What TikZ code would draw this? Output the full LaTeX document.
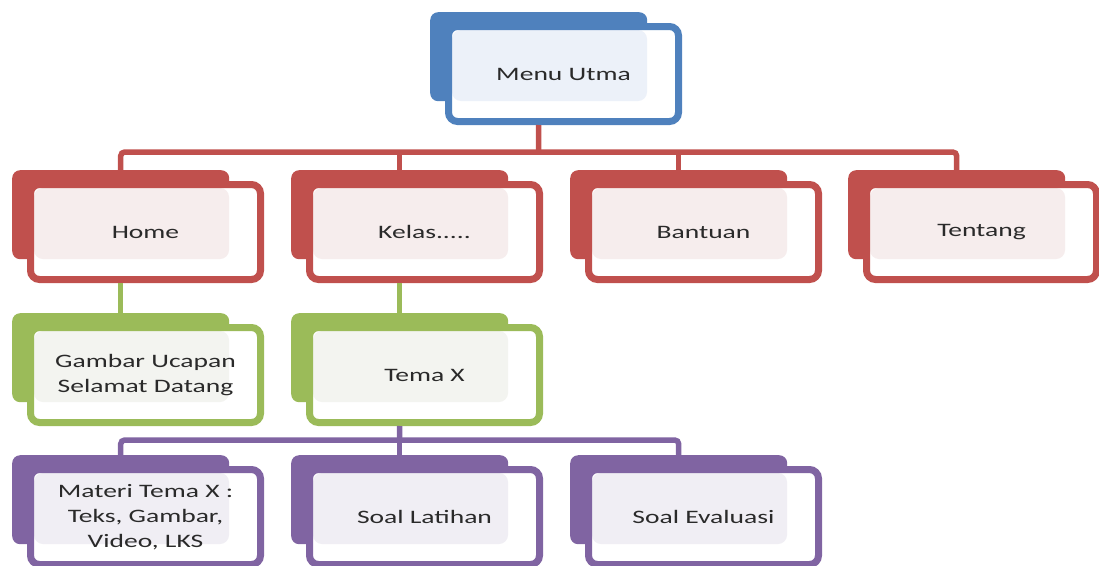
\documentclass[tikz,border=0pt]{standalone}
\usepackage{fontspec}
\setmainfont{Carlito}[FakeStretch=1.45]
\definecolor{cred}{HTML}{C0504D}
\definecolor{cblue}{HTML}{4F81BD}
\definecolor{cgreen}{HTML}{9BBB59}
\definecolor{cpurple}{HTML}{8064A2}
\definecolor{tred}{HTML}{F6EDED}
\definecolor{tblue}{HTML}{ECF1F9}
\definecolor{tgreen}{HTML}{F3F4F0}
\definecolor{tpurple}{HTML}{F0EEF4}
\definecolor{txt}{HTML}{2A2A2A}
\tikzset{
  backbox/.style={rectangle, rounded corners=8, minimum width=217, minimum height=89, inner sep=0, anchor=north west},
  frontbox/.style={rectangle, rounded corners=9, line width=7, fill=white, minimum width=230, minimum height=95, inner sep=0, anchor=north west, align=center, text=txt, font=\fontsize{19}{25}\selectfont},
  conn/.style={line width=5.5, rounded corners=4},
}
\newcommand\mybox[6]{%
  \node[backbox, fill=#4] (#1b) at (#2,#3) {};
  \node[frontbox, draw=#4, path picture={\fill[#5] ([shift={(3.5,3.5)}]path picture bounding box.north west) rectangle ++(195,71);}] (#1) at ({#2+15},{#3+11}) {#6};
}
\begin{document}
\begin{tikzpicture}[x=1pt,y=-1pt]
\useasboundingbox (0,0) rectangle (1099,565);
\mybox{menu}{430}{12}{cblue}{tblue}{Menu Utma}
\mybox{home}{12}{170}{cred}{tred}{Home}
\mybox{kelas}{291}{170}{cred}{tred}{Kelas.....}
\mybox{bantuan}{570}{170}{cred}{tred}{Bantuan}
\mybox{tentang}{848}{170}{cred}{tred}{Tentang}
\mybox{gambar}{12}{313}{cgreen}{tgreen}{Gambar Ucapan\\Selamat Datang}
\mybox{tema}{291}{313}{cgreen}{tgreen}{Tema X}
\mybox{materi}{12}{455}{cpurple}{tpurple}{\fontsize{19}{21}\selectfont Materi Tema X :\\Teks, Gambar,\\Video, LKS}
\mybox{latihan}{291}{455}{cpurple}{tpurple}{Soal Latihan}
\mybox{evaluasi}{570}{455}{cpurple}{tpurple}{Soal Evaluasi}
% red connectors
\coordinate (bus1) at (538.5,152);
\draw[conn,cred] (menub.south |- menu.south) -- (bus1);
\draw[conn,cred] (homeb.north) |- (bus1) -| (tentangb.north);
\draw[conn,cred] (kelasb.north) -- (kelasb.north |- bus1);
\draw[conn,cred] (bantuanb.north) -- (bantuanb.north |- bus1);
% green connectors
\draw[conn,cgreen] (homeb.south |- home.south) -- (gambarb.north);
\draw[conn,cgreen] (kelasb.south |- kelas.south) -- (temab.north);
% purple connectors
\coordinate (bus2) at (399.5,440);
\draw[conn,cpurple] (temab.south |- tema.south) -- (bus2);
\draw[conn,cpurple] (materib.north) |- (bus2) -| (evaluasib.north);
\draw[conn,cpurple] (latihanb.north) -- (latihanb.north |- bus2);
\end{tikzpicture}
\end{document}
